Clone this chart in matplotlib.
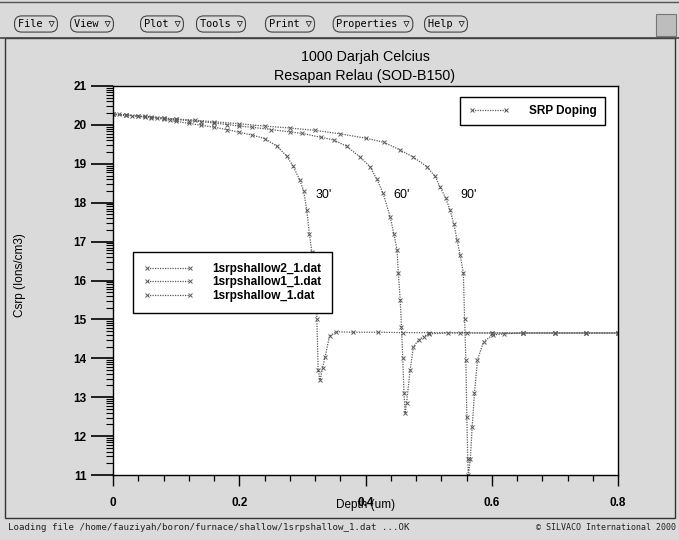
import numpy as np
import matplotlib
matplotlib.use("Agg")
import matplotlib.pyplot as plt
from matplotlib.lines import Line2D
from matplotlib.patches import Rectangle
from matplotlib.ticker import FixedLocator

plt.rcParams['font.family'] = ['Liberation Sans', 'DejaVu Sans']

# 30' -> 1srpshallow_1.dat
x30 = [0.0, 0.01, 0.02, 0.03, 0.04, 0.05, 0.06, 0.07, 0.08, 0.09, 0.10, 0.12, 0.14,
       0.16, 0.18, 0.20, 0.22, 0.24, 0.26, 0.275, 0.285, 0.296, 0.302, 0.307, 0.311,
       0.315, 0.319, 0.3217, 0.323, 0.325, 0.328, 0.332, 0.336, 0.343, 0.354, 0.38,
       0.42, 0.46, 0.50, 0.55, 0.60, 0.65, 0.70, 0.75, 0.80]
y30 = [20.28, 20.27, 20.26, 20.24, 20.22, 20.20, 20.19, 20.17, 20.15, 20.12, 20.09,
       20.04, 19.99, 19.94, 19.88, 19.81, 19.74, 19.65, 19.45, 19.2, 18.95, 18.58,
       18.3, 17.81, 17.2, 16.74, 16.6, 16.5, 15.0, 13.7, 13.44, 13.75, 14.04, 14.57,
       14.68, 14.67, 14.67, 14.66, 14.66, 14.66, 14.65, 14.65, 14.65, 14.65, 14.65]

# 60' -> 1srpshallow1_1.dat
x60 = [0.0, 0.02, 0.04, 0.06, 0.08, 0.10, 0.12, 0.14, 0.16, 0.18, 0.20, 0.22, 0.25,
       0.28, 0.30, 0.33, 0.35, 0.37, 0.391, 0.407, 0.418, 0.428, 0.439, 0.445, 0.45,
       0.452, 0.455, 0.457, 0.459, 0.461, 0.4628, 0.465, 0.4707, 0.476, 0.484, 0.492,
       0.50, 0.53, 0.56, 0.60, 0.65, 0.70, 0.75, 0.80]
y60 = [20.27, 20.25, 20.22, 20.2, 20.17, 20.14, 20.11, 20.08, 20.05, 20.01, 19.97,
       19.94, 19.88, 19.82, 19.78, 19.68, 19.61, 19.45, 19.18, 18.93, 18.6, 18.24,
       17.64, 17.2, 16.78, 16.18, 15.5, 14.81, 14.0, 13.1, 12.59, 12.84, 13.7, 14.3,
       14.47, 14.56, 14.63, 14.65, 14.65, 14.65, 14.65, 14.65, 14.65, 14.65]

# 90' -> 1srpshallow2_1.dat
x90 = [0.0, 0.02, 0.05, 0.08, 0.10, 0.13, 0.16, 0.20, 0.24, 0.28, 0.32, 0.36, 0.40,
       0.43, 0.455, 0.475, 0.497, 0.51, 0.518, 0.527, 0.534, 0.540, 0.545, 0.550,
       0.555, 0.557, 0.559, 0.5605, 0.562, 0.563, 0.566, 0.569, 0.5726, 0.5774,
       0.587, 0.602, 0.62, 0.65, 0.70, 0.75, 0.80]
y90 = [20.27, 20.25, 20.22, 20.18, 20.15, 20.12, 20.08, 20.03, 19.97, 19.92, 19.86,
       19.77, 19.66, 19.55, 19.35, 19.18, 18.93, 18.68, 18.41, 18.12, 17.81, 17.45,
       17.04, 16.65, 16.2, 15.0, 13.96, 12.5, 11.4, 11.0, 11.4, 12.24, 13.1, 13.96,
       14.43, 14.6, 14.63, 14.65, 14.65, 14.65, 14.65]

labels = ["1srpshallow2_1.dat", "1srpshallow1_1.dat", "1srpshallow_1.dat"]
menu = ["File \u25bd", "View \u25bd", "Plot \u25bd", "Tools \u25bd", "Print \u25bd",
        "Properties \u25bd", "Help \u25bd"]
menu_x = [36, 92, 162, 221, 290, 373, 446]

W, H = 679, 540
fig = plt.figure(figsize=(W / 100, H / 100), dpi=100, facecolor='#dadada')

def fx(px):
    return px / W

def fy(py):
    return 1 - py / H

# window decorations
fig.patches.append(Rectangle((fx(5), fy(518)), fx(670), 480 / H, transform=fig.transFigure,
                             fill=False, ec='#333333', lw=1.0))
fig.add_artist(Line2D([0, 1], [fy(38), fy(38)], transform=fig.transFigure, color='#444444', lw=1.2))
fig.add_artist(Line2D([0, 1], [fy(2), fy(2)], transform=fig.transFigure, color='#555555', lw=1.0))
fig.patches.append(Rectangle((fx(656), fy(36)), fx(20), 22 / H, transform=fig.transFigure,
                             fc='#bdbdbd', ec='#777777', lw=0.8))
for m, mx in zip(menu, menu_x):
    fig.text(fx(mx), fy(24), m, ha='center', va='center', fontsize=7.4,
             family=['DejaVu Sans Mono', 'DejaVu Sans'],
             bbox=dict(boxstyle='round,pad=0.3,rounding_size=0.7', fc='#dadada', ec='#444444', lw=0.8))

fig.text(fx(8), fy(527), "Loading file /home/fauziyah/boron/furnace/shallow/1srpshallow_1.dat ...OK",
         ha='left', va='center', fontsize=6.6, family='DejaVu Sans Mono', color='#222222')
fig.text(fx(676), fy(527), "\u00a9 SILVACO International 2000", ha='right', va='center',
         fontsize=6.0, family='DejaVu Sans Mono', color='#222222')

fig.text(fx(365), fy(57), "1000 Darjah Celcius", ha='center', va='center', fontsize=10.3)
fig.text(fx(365), fy(76), "Resapan Relau (SOD-B150)", ha='center', va='center', fontsize=10.3)

ax = fig.add_axes([fx(113), fy(475), fx(618) - fx(113), (475 - 86) / H])
ax.set_facecolor('white')

style = dict(color='#5a5a5a', linestyle=(0, (1, 1)), linewidth=0.9, marker='x',
             markersize=3.2, markeredgewidth=0.7)
l90, = ax.plot(x90, y90, **style)
l60, = ax.plot(x60, y60, **style)
l30, = ax.plot(x30, y30, **style)

ax.set_xlim(0, 0.8)
ax.set_ylim(11, 21)
ax.set_xticks([0, 0.2, 0.4, 0.6, 0.8])
ax.set_xticklabels(["0", "0.2", "0.4", "0.6", "0.8"])
ax.xaxis.set_minor_locator(FixedLocator(np.arange(0, 0.81, 0.04)))
ax.set_yticks(range(11, 22))
ax.yaxis.set_minor_locator(FixedLocator([d + np.log10(k) for d in range(11, 21) for k in range(2, 10)]))
ax.tick_params(axis='x', which='major', direction='out', length=8, width=1.0, pad=8, labelsize=8.5)
ax.tick_params(axis='x', which='minor', direction='out', length=4, width=0.9)
ax.tick_params(axis='y', which='major', direction='out', length=16, width=1.2, pad=3, labelsize=8.5)
ax.tick_params(axis='y', which='minor', direction='out', length=5, width=0.8)
for t in ax.get_xticklabels() + ax.get_yticklabels():
    t.set_fontweight('bold')
for s in ax.spines.values():
    s.set_linewidth(1.0)

# the axis title sits over the 0.4 tick label, as in the original screenshot
ax.set_xlabel("Depth (um)", fontsize=8.5)
ax.xaxis.set_label_coords(0.5, -0.062)
ax.set_ylabel("Csrp (Ions/cm3)", fontsize=8.5)
ax.yaxis.set_label_coords(-0.172, 0.514)

ax.text(0.334, 18.2, "30'", fontsize=9, ha='center', va='center')
ax.text(0.458, 18.2, "60'", fontsize=9, ha='center', va='center')
ax.text(0.564, 18.2, "90'", fontsize=9, ha='center', va='center')

leg1 = ax.legend([l90, l60, l30], labels, loc='upper left', bbox_to_anchor=(0.04, 0.573),
                 numpoints=2, handlelength=4.2, fancybox=False, framealpha=1, edgecolor='black',
                 prop=dict(weight='bold', size=8.5), labelspacing=0.15, borderpad=0.9,
                 handletextpad=1.6, borderaxespad=0)
leg1.get_frame().set_linewidth(1.0)
ax.add_artist(leg1)
srp = Line2D([], [], **style)
leg2 = ax.legend([srp], ["SRP Doping"], loc='upper right', bbox_to_anchor=(0.974, 0.972),
                 numpoints=2, handlelength=3.5, fancybox=False, framealpha=1, edgecolor='black',
                 prop=dict(weight='bold', size=8.5), borderpad=0.7, handletextpad=1.6,
                 borderaxespad=0)
leg2.get_frame().set_linewidth(1.0)

fig.savefig("out.png", dpi=100, facecolor=fig.get_facecolor())
